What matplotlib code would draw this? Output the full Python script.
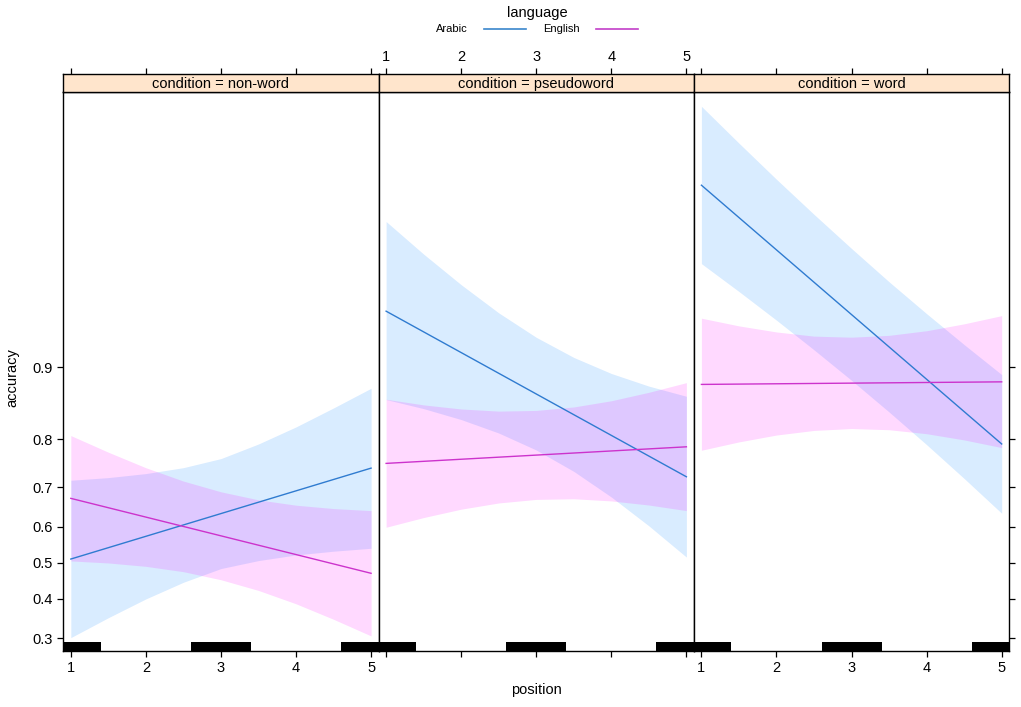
import matplotlib
matplotlib.use("Agg")
import matplotlib.pyplot as plt
from matplotlib.lines import Line2D
from matplotlib.ticker import NullLocator, NullFormatter, FixedLocator

plt.rcParams['font.family'] = ['Liberation Sans', 'DejaVu Sans']

# ---------------- data ----------------
conditions = ['non-word', 'pseudoword', 'word']
languages = ['Arabic', 'English']
band_positions = [1, 1.5, 2, 2.5, 3, 3.5, 4, 4.5, 5]
fit_positions = [1, 5]

# fitted accuracy at position 1 and 5 (per condition)
arabic_fit = [[0.510, 0.743], [0.944, 0.724], [0.9858, 0.7913]]
english_fit = [[0.673, 0.470], [0.753, 0.786], [0.881, 0.884]]

# confidence bands read at positions 1, 1.5, ..., 5 (per condition)
arabic_upper = [[0.7161, 0.7221, 0.7311, 0.7440, 0.7629, 0.7913, 0.8212, 0.8504, 0.8764],
                [0.9788, 0.9697, 0.9578, 0.9430, 0.9263, 0.9093, 0.8933, 0.8790, 0.8663],
                [0.9941, 0.9911, 0.9867, 0.9804, 0.9715, 0.9591, 0.9425, 0.9205, 0.8921]]
arabic_lower = [[0.3009, 0.3500, 0.3994, 0.4450, 0.4833, 0.5057, 0.5215, 0.5320, 0.5402],
                [0.8620, 0.8494, 0.8330, 0.8109, 0.7799, 0.7359, 0.6763, 0.6018, 0.5155],
                [0.9664, 0.9546, 0.9384, 0.9161, 0.8857, 0.8445, 0.7900, 0.7201, 0.6351]]
english_upper = [[0.8065, 0.7756, 0.7438, 0.7142, 0.6890, 0.6693, 0.6559, 0.6473, 0.6420],
                 [0.8624, 0.8547, 0.8489, 0.8458, 0.8468, 0.8518, 0.8604, 0.8714, 0.8831],
                 [0.9397, 0.9346, 0.9303, 0.9272, 0.9264, 0.9278, 0.9312, 0.9360, 0.9413]]
english_lower = [[0.5047, 0.4990, 0.4895, 0.4745, 0.4520, 0.4224, 0.3863, 0.3459, 0.3049],
                 [0.5980, 0.6239, 0.6457, 0.6615, 0.6704, 0.6720, 0.6666, 0.6563, 0.6420],
                 [0.7794, 0.7951, 0.8074, 0.8153, 0.8185, 0.8165, 0.8097, 0.7987, 0.7845]]

rug_positions = [1, 3, 5]
y_ticks = [0.3, 0.4, 0.5, 0.6, 0.7, 0.8, 0.9]
y_tick_labels = ['0.3', '0.4', '0.5', '0.6', '0.7', '0.8', '0.9']
x_ticks = [1, 2, 3, 4, 5]

# ---------------- style ----------------
col_ar = '#2f7bd0'
col_en = '#cc33cc'
leg_ar = '#3a86cc'
leg_en = '#c23ec8'
band_ar = '#0080ff'
band_en = '#ff00ff'
strip_col = '#ffe5cc'
fs = 10.5

W, H = 1021, 707
fig = plt.figure(figsize=(W / 100, H / 100), dpi=100)

panel_left0 = 63.3
panel_w = 315.3
panel_top = 92
panel_bot = 651
strip_h = 18

for i, cond in enumerate(conditions):
    left = panel_left0 + i * panel_w
    ax = fig.add_axes([left / W, (H - panel_bot) / H, panel_w / W, (panel_bot - panel_top) / H])
    sax = fig.add_axes([left / W, (H - panel_top) / H, panel_w / W, strip_h / H], sharex=ax)

    ax.set_yscale('logit')
    ax.set_xlim(0.9, 5.1)
    ax.set_ylim(0.2703, 0.99497)

    ax.fill_between(band_positions, arabic_lower[i], arabic_upper[i], color=band_ar, alpha=0.15, linewidth=0)
    ax.fill_between(band_positions, english_lower[i], english_upper[i], color=band_en, alpha=0.15, linewidth=0)
    ax.plot(fit_positions, arabic_fit[i], color=col_ar, lw=1.0)
    ax.plot(fit_positions, english_fit[i], color=col_en, lw=1.0)

    for r in rug_positions:
        ax.axvspan(r - 0.4, r + 0.4, ymin=0, ymax=9 / 559, color='black', lw=0)

    ax.yaxis.set_major_locator(FixedLocator(y_ticks))
    ax.yaxis.set_minor_locator(NullLocator())
    ax.yaxis.set_minor_formatter(NullFormatter())
    ax.set_yticklabels(y_tick_labels)
    ax.xaxis.set_major_locator(FixedLocator(x_ticks))
    ax.xaxis.set_minor_locator(NullLocator())

    for sp in ax.spines.values():
        sp.set_linewidth(1.0)
        sp.set_color('black')

    ax.tick_params(axis='both', direction='out', length=4.5, width=0.9, colors='black',
                   labelsize=fs, pad=3)
    ax.tick_params(axis='y', left=(i == 0), labelleft=(i == 0),
                   right=(i == 2), labelright=False)
    ax.tick_params(axis='x', bottom=True, labelbottom=(i != 1), top=False, labeltop=False)

    # strip
    sax.set_facecolor(strip_col)
    sax.set_yticks([])
    sax.tick_params(axis='x', bottom=False, labelbottom=False, top=True,
                    labeltop=(i == 1), direction='out', length=4.5, width=0.9,
                    labelsize=fs, pad=3)
    for sp in sax.spines.values():
        sp.set_linewidth(1.0)
        sp.set_color('black')
    sax.text(0.5, 0.45, 'condition = ' + cond, transform=sax.transAxes,
             ha='center', va='center', fontsize=fs)

# axis titles
fig.text(536 / W, 1 - 690 / H, 'position', ha='center', va='center', fontsize=fs)
fig.text(12 / W, 1 - 378 / H, 'accuracy', ha='center', va='center', rotation=90, fontsize=fs)

# legend
fig.text(537 / W, 1 - 13 / H, 'language', ha='center', va='center', fontsize=fs)
fig.text(452 / W, 1 - 29 / H, languages[0], ha='center', va='center', fontsize=8)
fig.text(561 / W, 1 - 29 / H, languages[1], ha='center', va='center', fontsize=8)
fig.add_artist(Line2D([484 / W, 526 / W], [1 - 29 / H, 1 - 29 / H], color=leg_ar, lw=1.2,
                      transform=fig.transFigure))
fig.add_artist(Line2D([596 / W, 638 / W], [1 - 29 / H, 1 - 29 / H], color=leg_en, lw=1.2,
                      transform=fig.transFigure))

fig.savefig('out.png', dpi=100, facecolor='white')
